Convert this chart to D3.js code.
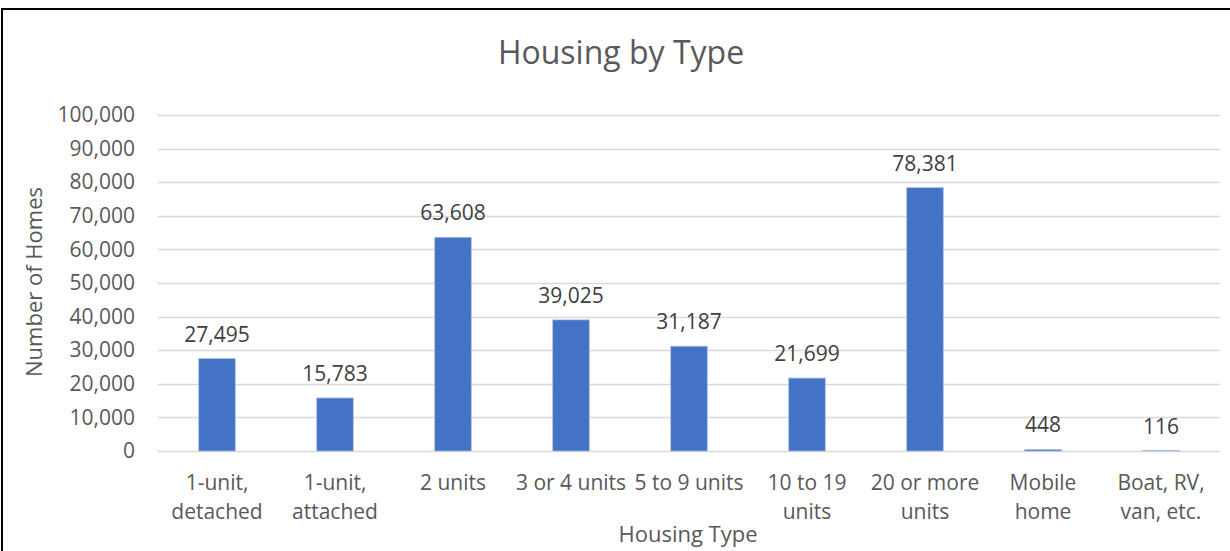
<!DOCTYPE html>
<html>
<head>
  <meta charset="utf-8">
  <title>Housing by Type</title>
  <style>
    body { margin: 0; background: #fff; }
    text { font-family: "Open Sans", "Noto Sans", sans-serif; }
  </style>
</head>
<body>
  <script src="https://d3js.org/d3.v7.min.js"></script>
  <script>
  // data
  var categories = ["1-unit,\ndetached", "1-unit,\nattached", "2 units", "3 or 4 units",
                    "5 to 9 units", "10 to 19\nunits", "20 or more\nunits", "Mobile\nhome",
                  "Boat, RV,\nvan, etc."];
  var homes = [27495, 15783, 63608, 39025, 31187, 21699, 78381, 448, 116];
  var yTicks = [0, 10000, 20000, 30000, 40000, 50000, 60000, 70000, 80000, 90000, 100000];

  var W = 1230, H = 551;
  var margin = {top: 115, right: 10, bottom: 100, left: 158},
      width  = 1220 - margin.left,
      height = 451 - margin.top;

  var svg = d3.select("body").append("svg")
      .attr("width", W)
      .attr("height", H);

  svg.append("rect")
      .attr("x", 2).attr("y", 9)
      .attr("width", W + 20).attr("height", H + 20)
      .attr("fill", "#fff")
      .attr("stroke", "#000")
      .attr("stroke-width", 2);

  var chart = svg.append("g")
      .attr("transform", "translate(" + margin.left + "," + margin.top + ")");

  var x = d3.scaleBand()
      .domain(categories)
      .range([0, width])
      .paddingInner(0.69)
      .paddingOuter(0.345);

  var y = d3.scaleLinear()
      .domain([0, 100000])
      .range([height, 0]);

  // gridlines
  chart.append("g")
      .selectAll("line")
      .data(yTicks)
      .enter().append("line")
      .attr("x1", 0).attr("x2", width)
      .attr("y1", function(d){ return Math.round(y(d)) + 0.5; })
      .attr("y2", function(d){ return Math.round(y(d)) + 0.5; })
      .attr("stroke", "#d9d9d9")
      .attr("stroke-width", 1.5);

  // y axis labels
  var yAxis = chart.append("g")
      .attr("transform", "translate(-10,0)")
      .call(d3.axisLeft(y).tickValues(yTicks).tickFormat(d3.format(",")).tickSize(0).tickPadding(13));
  yAxis.select(".domain").remove();
  yAxis.selectAll("text")
      .attr("font-size", "21px")
      .attr("fill", "#595959")
      .style("font-family", "'Open Sans', sans-serif");

  // bars
  chart.selectAll(".bar")
      .data(homes)
      .enter().append("rect")
      .attr("class", "bar")
      .attr("x", function(d, i){ return x(categories[i]); })
      .attr("width", x.bandwidth())
      .attr("y", function(d){ return y(d); })
      .attr("height", function(d){ return height - y(d); })
      .attr("fill", "#4472c4")
      .attr("stroke", "#a9bfe6")
      .attr("stroke-width", 0.8);

  // value labels
  chart.selectAll(".val")
      .data(homes)
      .enter().append("text")
      .attr("class", "val")
      .attr("x", function(d, i){ return x(categories[i]) + x.bandwidth() / 2; })
      .attr("y", function(d){ return y(d) - 17; })
      .attr("text-anchor", "middle")
      .attr("font-size", "21px")
      .attr("fill", "#404040")
      .text(function(d){ return d3.format(",")(d); });

  // x axis labels (wrapped)
  var xAxis = chart.append("g")
      .attr("transform", "translate(0," + height + ")");
  categories.forEach(function(c){
    var t = xAxis.append("text")
        .attr("text-anchor", "middle")
        .attr("font-size", "21px")
        .attr("fill", "#595959");
    c.split("\n").forEach(function(line, k){
      t.append("tspan")
        .attr("x", x(c) + x.bandwidth() / 2)
        .attr("y", 39 + k * 29)
        .text(line);
    });
  });

  // titles
  svg.append("text")
      .attr("x", 621).attr("y", 64)
      .attr("text-anchor", "middle")
      .attr("font-size", "32px")
      .attr("fill", "#595959")
      .text("Housing by Type");

  svg.append("text")
      .attr("x", 688).attr("y", 542)
      .attr("text-anchor", "middle")
      .attr("font-size", "22px")
      .attr("fill", "#595959")
      .text("Housing Type");

  svg.append("text")
      .attr("transform", "translate(42,282) rotate(-90)")
      .attr("text-anchor", "middle")
      .attr("font-size", "22px")
      .attr("fill", "#595959")
      .text("Number of Homes");
  </script>
</body>
</html>
